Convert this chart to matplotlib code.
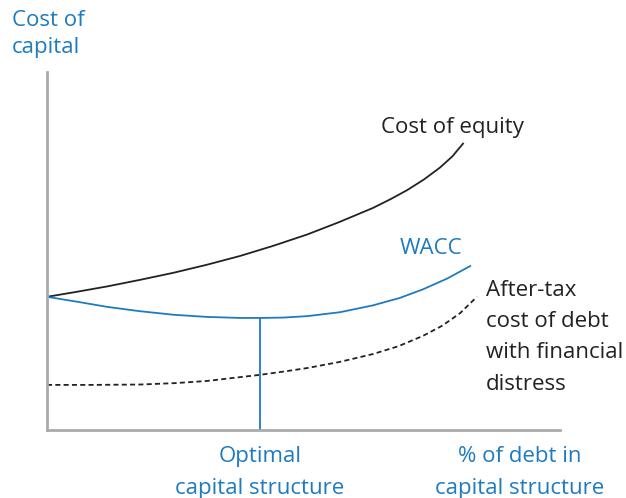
import matplotlib
matplotlib.use("Agg")
import matplotlib.pyplot as plt

plt.rcParams['font.family'] = ['Open Sans', 'DejaVu Sans']

BLUE = '#1f7bbf'
GREY = '#aaaaaa'
INK = '#222222'

# values (x: % debt, y: cost of capital, both 0..100)
equity_x = [0, 5.8, 11.7, 18, 24.6, 31, 37.6, 44, 50.7, 57, 63.5, 67, 70.2, 73.5, 76.6, 79, 81.1]
equity_y = [37.2, 38.6, 40.1, 41.9, 43.9, 46.1, 48.6, 51.4, 54.6, 58.1, 62.0, 64.5, 67.0, 70.0,
            73.3, 76.4, 80.0]

wacc_x = [0, 6, 11.7, 18, 24.6, 31, 37.6, 41.5, 46, 50.7, 57.1, 63.5, 68.8, 73.3, 78.0, 82.5]
wacc_y = [37.2, 35.8, 34.4, 33.2, 32.2, 31.6, 31.3, 31.3, 31.4, 31.8, 32.9, 34.8, 36.9, 39.3,
          42.3, 45.8]

debt_x = [0, 9, 18.1, 25, 31.2, 36, 41.5, 46, 50.7, 57, 63.5, 68.5, 73.3, 77, 80.5, 83.8]
debt_y = [12.6, 12.6, 12.7, 13.1, 13.7, 14.5, 15.4, 16.3, 17.3, 19.0, 21.2, 23.4, 26.3, 29.1,
          32.6, 37.2]

optimal_x = 41.5
optimal_y = 31.3

fig = plt.figure(figsize=(6.26, 4.98), dpi=100)
W, H = 626, 498
ax = fig.add_axes([47 / W, (H - 430) / H, (560 - 47) / W, (430 - 72) / H])
ax.set_xlim(0, 100)
ax.set_ylim(0, 100)

ax.plot(equity_x, equity_y, color=INK, lw=1.3, solid_joinstyle='round')
ax.plot(wacc_x, wacc_y, color=BLUE, lw=1.3, solid_joinstyle='round')
ax.plot(debt_x, debt_y, color=INK, lw=1.3, linestyle=(0, (2.8, 1.8)))
ax.plot([optimal_x, optimal_x], [0, optimal_y], color=BLUE, lw=1.3)

for side in ['top', 'right']:
    ax.spines[side].set_visible(False)
for side in ['left', 'bottom']:
    ax.spines[side].set_color(GREY)
    ax.spines[side].set_linewidth(2)
ax.set_xticks([])
ax.set_yticks([])

fs = 16
ax.text(65.1, 84.4, 'Cost of equity', fontsize=fs, color=INK, va='center', ha='left')
ax.text(68.8, 50.8, 'WACC', fontsize=fs, color=BLUE, va='center', ha='left')
ax.text(85.6, 42.0, 'After-tax\ncost of debt\nwith financial\ndistress', fontsize=fs,
        color=INK, va='top', ha='left', linespacing=1.65, clip_on=False)
ax.text(optimal_x, -4.6, 'Optimal\ncapital structure', fontsize=fs, color=BLUE,
        va='top', ha='center', linespacing=1.66, clip_on=False)
ax.text(92.2, -4.6, '% of debt in\ncapital structure', fontsize=fs, color=BLUE,
        va='top', ha='center', linespacing=1.66, clip_on=False)
ax.text(-6.8, 117.2, 'Cost of\ncapital', fontsize=fs, color=BLUE,
        va='top', ha='left', linespacing=1.35, clip_on=False)

fig.savefig('out.png', dpi=100)
